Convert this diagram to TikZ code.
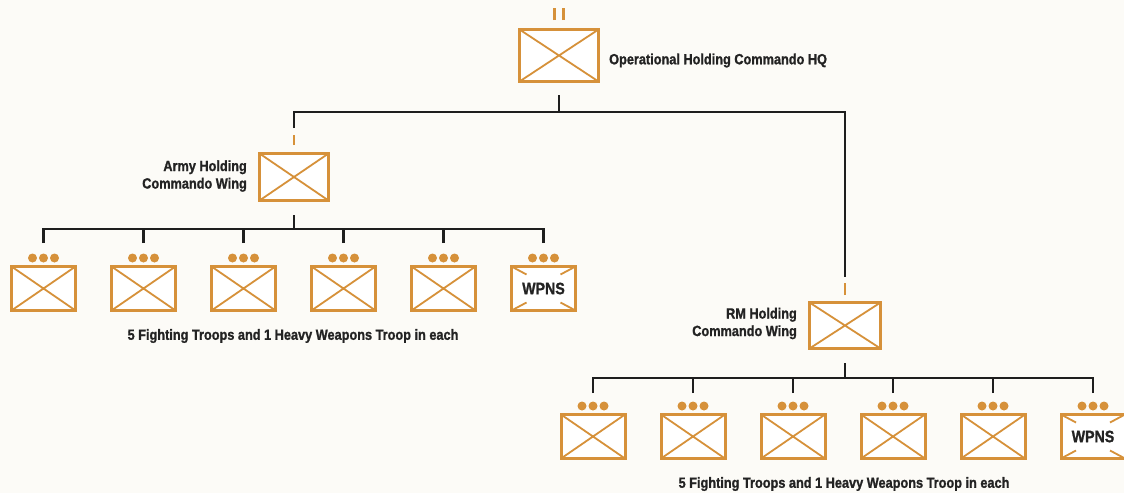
\documentclass[tikz,border=0pt]{standalone}
\usepackage{fontspec}
\setmainfont{Liberation Sans}[FakeStretch=0.86, BoldFeatures={FakeBold=1.2}]
\usepackage{xcolor}
\usepackage{tikz}
\usetikzlibrary{positioning, shadows}
\definecolor{unitorange}{RGB}{214, 145, 58}
\definecolor{linkblack}{RGB}{30, 30, 30}
\definecolor{paper}{RGB}{252, 251, 247}
\definecolor{textgrey}{RGB}{35, 35, 35}

\tikzset{
    unit/.style={draw=unitorange, line width=3pt, fill=white, inner sep=0pt,
        minimum width=64pt, minimum height=44pt,
        drop shadow={shadow xshift=1pt, shadow yshift=-1pt, opacity=0.25, fill=black!70}},
    cross/.style={path picture={
        \draw[unitorange, line width=1.8pt]
            (path picture bounding box.north west) -- (path picture bounding box.south east)
            (path picture bounding box.north east) -- (path picture bounding box.south west);}},
    wpns/.style={font=\bfseries\fontsize{16.5}{18}\selectfont, text=textgrey, path picture={
        \draw[unitorange, line width=1.8pt]
            (path picture bounding box.north west) -- ++(15,8)
            (path picture bounding box.north east) -- ++(-15,8)
            (path picture bounding box.south west) -- ++(15,-8)
            (path picture bounding box.south east) -- ++(-15,-8);}},
    link/.style={draw=linkblack, line width=2.2pt},
    tick/.style={draw=unitorange, line width=2.2pt},
    lbl/.style={font=\bfseries\fontsize{14.8}{17.5}\selectfont, text=textgrey, inner sep=0pt}
}

\begin{document}
\begin{tikzpicture}[x=1pt, y=-1pt]
    % Background
    \fill[paper] (0,0) rectangle (1124,493);
    \useasboundingbox (0,0) rectangle (1124,493);

    % Headquarters and the two wings
    \node[unit, cross, minimum width=79pt, minimum height=52pt] (hq) at (559,55.5) {};
    \node[unit, cross, minimum width=69pt, minimum height=47pt] (army) at (294,177) {};
    \node[unit, cross, minimum width=71pt, minimum height=46pt] (rm) at (845,325.5) {};

    % Echelon marks
    \draw[tick] ([xshift=-4.5pt, yshift=8pt]hq.north) -- ++(0,-12);
    \draw[tick] ([xshift=4.5pt, yshift=8pt]hq.north) -- ++(0,-12);
    \draw[tick] ([yshift=7pt]army.north) -- ++(0,-10);
    \draw[tick] ([yshift=6pt]rm.north) -- ++(0,-12);

    % Labels
    \node[lbl, right=9pt of hq, yshift=-5pt] (hqlbl) {Operational Holding Commando HQ};
    \node[lbl, left=11pt of army, align=right, yshift=1pt] (armylbl) {Army Holding\\Commando Wing};
    \node[lbl, left=11pt of rm, align=right, yshift=2pt] (rmlbl) {RM Holding\\Commando Wing};

    % Troops under each wing
    \foreach \i in {1,...,5} {
        \node[unit, cross] (a\i) at ({-56.5+100*\i},288.5) {};
        \node[unit, cross] (r\i) at ({493+100*\i},436.5) {};
    }
    \node[unit, wpns] (a6) at (543.5,288.5) {WPNS};
    \node[unit, wpns] (r6) at (1093,436.5) {WPNS};

    % Company dots
    \foreach \i in {1,...,6} {
        \foreach \dx in {-11,0,11} {
            \fill[unitorange] ([xshift=\dx pt, yshift=7pt]a\i.north) circle (4.5pt);
            \fill[unitorange] ([xshift=\dx pt, yshift=7pt]r\i.north) circle (4.5pt);
        }
    }

    % Connectors
    \draw[link] ([yshift=-12pt]hq.south) -- ([yshift=-29pt]hq.south);
    \draw[link] ([yshift=24pt]army.north) |- ([yshift=-29pt]hq.south) -| ([yshift=24pt]rm.north);

    \draw[link] ([yshift=-13pt]army.south) -- ([yshift=-27pt]army.south);
    \draw[link] ([yshift=-13pt]rm.south) -- ([yshift=-28pt]rm.south);
    \foreach \i in {1,...,6} {
        \draw[link] ([yshift=22pt]a\i.north) |- ([yshift=-27pt]army.south);
        \draw[link] ([yshift=20pt]r\i.north) |- ([yshift=-28pt]rm.south);
    }

    % Captions
    \node[lbl] (acap) at (293,336) {5 Fighting Troops and 1 Heavy Weapons Troop in each};
    \node[lbl] (rcap) at (844,484) {5 Fighting Troops and 1 Heavy Weapons Troop in each};
\end{tikzpicture}
\end{document}
